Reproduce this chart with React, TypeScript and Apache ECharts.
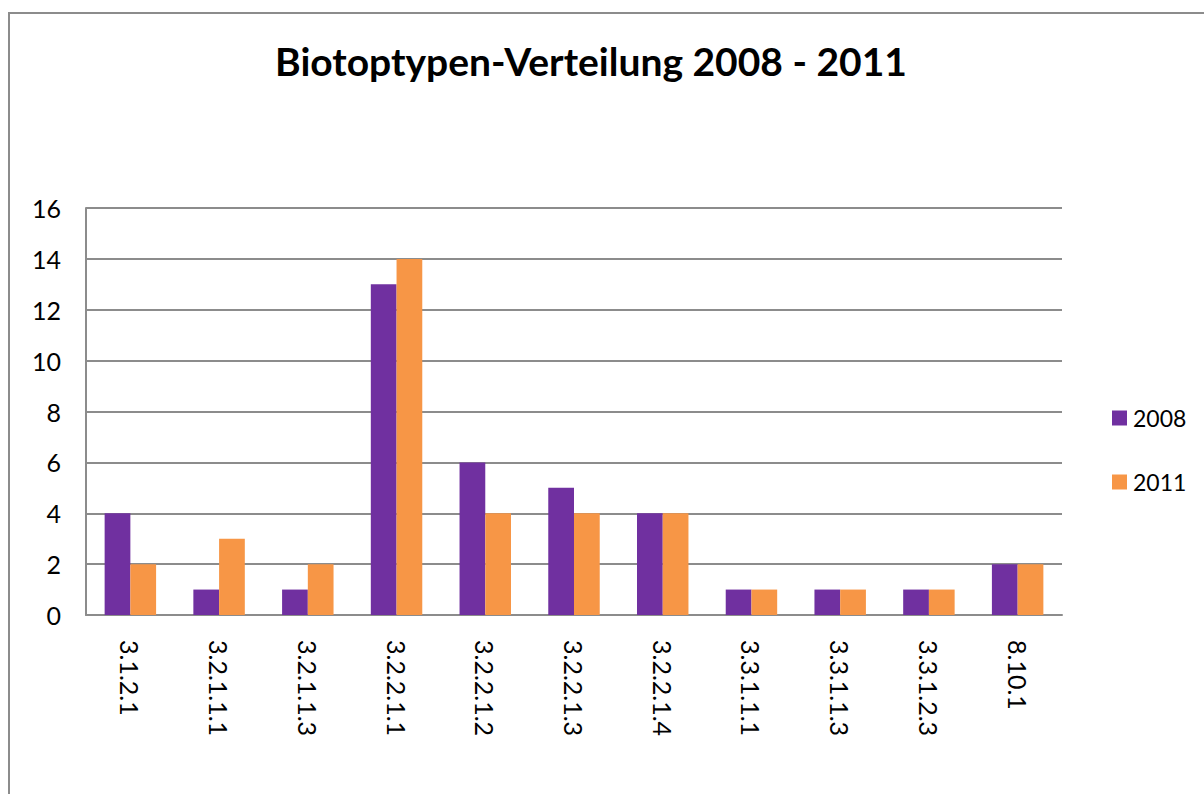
import React, { useEffect, useRef } from "react";
import * as echarts from "echarts";

const categories = [
  "3.1.2.1",
  "3.2.1.1.1",
  "3.2.1.1.3",
  "3.2.2.1.1",
  "3.2.2.1.2",
  "3.2.2.1.3",
  "3.2.2.1.4",
  "3.3.1.1.1",
  "3.3.1.1.3",
  "3.3.1.2.3",
  "8.10.1",
];
const values2008 = [4, 1, 1, 13, 6, 5, 4, 1, 1, 1, 2];
const values2011 = [2, 3, 2, 14, 4, 4, 4, 1, 1, 1, 2];
const seriesNames = ["2008", "2011"];

const FONT = "Lato, 'Open Sans', sans-serif";

export default function App() {
  const ref = useRef<HTMLDivElement>(null);
  useEffect(() => {
    if (!ref.current) return;
    const chart = echarts.init(ref.current, undefined, { renderer: "svg" });
    chart.setOption({
      animation: false,
      backgroundColor: "#ffffff",
      title: {
        text: "Biotoptypen-Verteilung 2008 - 2011",
        left: 586,
        textAlign: "center",
        top: 34,
        textStyle: {
          fontFamily: FONT,
          fontWeight: "bold",
          fontSize: 39,
          lineHeight: 44,
          color: "#000",
        },
      },
      graphic: [
        {
          type: "rect",
          shape: { x: 9, y: 13, width: 1300, height: 900 },
          style: { fill: "none", stroke: "#8c8c8c", lineWidth: 2 },
          silent: true,
        },
      ],
      legend: {
        orient: "vertical",
        left: 1107,
        top: 399,
        itemWidth: 15,
        itemHeight: 15,
        itemGap: 36,
        icon: "rect",
        textStyle: { fontFamily: FONT, fontSize: 23, lineHeight: 28, color: "#000", padding: [0, 0, 0, 1] },
        data: seriesNames,
      },
      grid: { left: 86, right: 142, top: 208, bottom: 179, containLabel: false },
      xAxis: {
        type: "category",
        data: categories,
        axisLine: { lineStyle: { color: "#8c8c8c", width: 2 } },
        axisTick: { show: false },
        axisLabel: {
          rotate: -90,
          margin: 25,
          fontFamily: FONT,
          fontSize: 25,
          color: "#000",
          interval: 0,
        },
      },
      yAxis: {
        type: "value",
        min: 0,
        max: 16,
        interval: 2,
        axisLine: { show: true, lineStyle: { color: "#8c8c8c", width: 2 } },
        axisTick: { show: false },
        splitLine: { lineStyle: { color: "#8c8c8c", width: 2 } },
        axisLabel: {
          margin: 25,
          fontFamily: FONT,
          fontSize: 25,
          color: "#000",
        },
      },
      series: [
        {
          name: seriesNames[0],
          type: "bar",
          data: values2008,
          barGap: "0%",
          barCategoryGap: "42%",
          itemStyle: { color: "#7030A0" },
        },
        {
          name: seriesNames[1],
          type: "bar",
          data: values2011,
          barGap: "0%",
          barCategoryGap: "42%",
          itemStyle: { color: "#F79646" },
        },
      ],
    });
    return () => chart.dispose();
  }, []);
  return (
    <div
      ref={ref}
      style={{ position: "fixed", left: 0, top: 0, width: 1204, height: 794 }}
    />
  );
}
